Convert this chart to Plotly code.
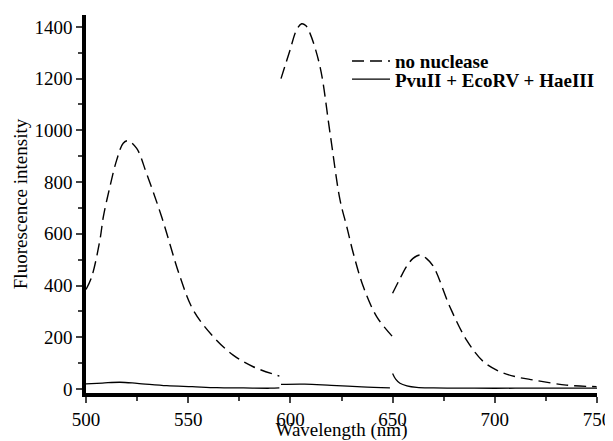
import plotly.graph_objects as go

# Dashed curve: no nuclease (three separate spectral windows)
wl_nn_1 = [500, 502.8, 506.8, 508.5, 511.7, 515, 518.2, 520.5, 524.8, 529.6, 537, 546, 552.5, 562.3, 572, 581.8, 594.6]
fi_nn_1 = [385, 434, 576, 666, 782, 885, 950, 960, 930, 834, 666, 434, 305, 202, 131, 86, 50]
wl_nn_2 = [595.4, 599.8, 603, 605.5, 607.5, 609.6, 614.5, 619.4, 624.3, 627.5, 630.8, 635.7, 642.2, 650]
fi_nn_2 = [1200, 1310, 1388, 1412, 1405, 1375, 1246, 989, 730, 630, 524, 395, 280, 202]
wl_nn_3 = [650, 653.5, 656.8, 660, 663.4, 666.5, 670, 678, 686.2, 694.4, 702.5, 710, 718.8, 735, 749.8]
fi_nn_3 = [370, 425, 473, 505, 518, 505, 473, 318, 189, 106, 67, 48, 35, 15, 9]

# Solid curve: PvuII + EcoRV + HaeIII
wl_en_1 = [500, 508, 516.6, 525, 539.5, 552, 564, 577, 590, 594.6]
fi_en_1 = [20, 23, 26, 22, 13, 9, 5, 4, 3, 4]
wl_en_2 = [595.4, 607, 620, 635, 648.7]
fi_en_2 = [18, 19, 14, 8, 4]
wl_en_3 = [650, 651.5, 653.6, 657, 661.8, 670, 690, 710, 730, 750]
fi_en_3 = [60, 38, 22, 12, 6, 4, 3, 3, 3, 3]

x_ticks = [500, 550, 600, 650, 700, 750]
y_ticks = [0, 200, 400, 600, 800, 1000, 1200, 1400]

dash_style = dict(color="black", width=1.4, dash="12px,6px")
solid_style = dict(color="black", width=1.3)

fig = go.Figure()
segments_nn = [(wl_nn_1, fi_nn_1), (wl_nn_2, fi_nn_2), (wl_nn_3, fi_nn_3)]
segments_en = [(wl_en_1, fi_en_1), (wl_en_2, fi_en_2), (wl_en_3, fi_en_3)]
for i, (xs, ys) in enumerate(segments_nn):
    fig.add_trace(go.Scatter(x=xs, y=ys, mode="lines", line=dict(shape="spline", smoothing=1.0, **dash_style),
                             name="no nuclease", legend="legend", showlegend=(i == 0)))
for i, (xs, ys) in enumerate(segments_en):
    fig.add_trace(go.Scatter(x=xs, y=ys, mode="lines", line=dict(shape="spline", smoothing=1.0, **solid_style),
                             name="PvuII + EcoRV + HaeIII", legend="legend2", showlegend=(i == 0)))

font_family = "Liberation Serif"
legend_font = dict(family=font_family, size=19, color="black", weight="bold")
fig.update_layout(
    width=605, height=433,
    margin=dict(l=78, r=16, t=7, b=48, autoexpand=False),
    paper_bgcolor="white", plot_bgcolor="white",
    font=dict(family=font_family, size=19, color="black"),
    showlegend=True,
    legend=dict(x=0.5108, y=0.878, xanchor="left", yanchor="middle",
                bgcolor="rgba(0,0,0,0)", font=legend_font, itemwidth=38),
    legend2=dict(x=0.5108, y=0.830, xanchor="left", yanchor="middle",
                 bgcolor="rgba(0,0,0,0)", font=legend_font, itemwidth=38),
    xaxis=dict(range=[500, 750], tickvals=x_ticks, ticks="outside", ticklen=6, tickwidth=1.8,
               showline=True, linecolor="black", linewidth=3.5, showgrid=False, zeroline=False,
               automargin=False,
               minor=dict(ticks="outside", ticklen=4, tickwidth=1.8, dtick=25, showgrid=False),
               title=dict(text="Wavelength (nm)", standoff=7, font=dict(size=19)),
               tickfont=dict(size=19)),
    yaxis=dict(range=[-15.5, 1446], tickvals=y_ticks, ticks="outside", ticklen=6, tickwidth=1.8,
               showline=True, linecolor="black", linewidth=3.5, showgrid=False, zeroline=False,
               automargin=False,
               minor=dict(ticks="outside", ticklen=4, tickwidth=1.8, dtick=100, showgrid=False),
               title=dict(text="Fluorescence intensity", standoff=3, font=dict(size=19)),
               tickfont=dict(size=19)),
)

fig.write_html("out.html")
